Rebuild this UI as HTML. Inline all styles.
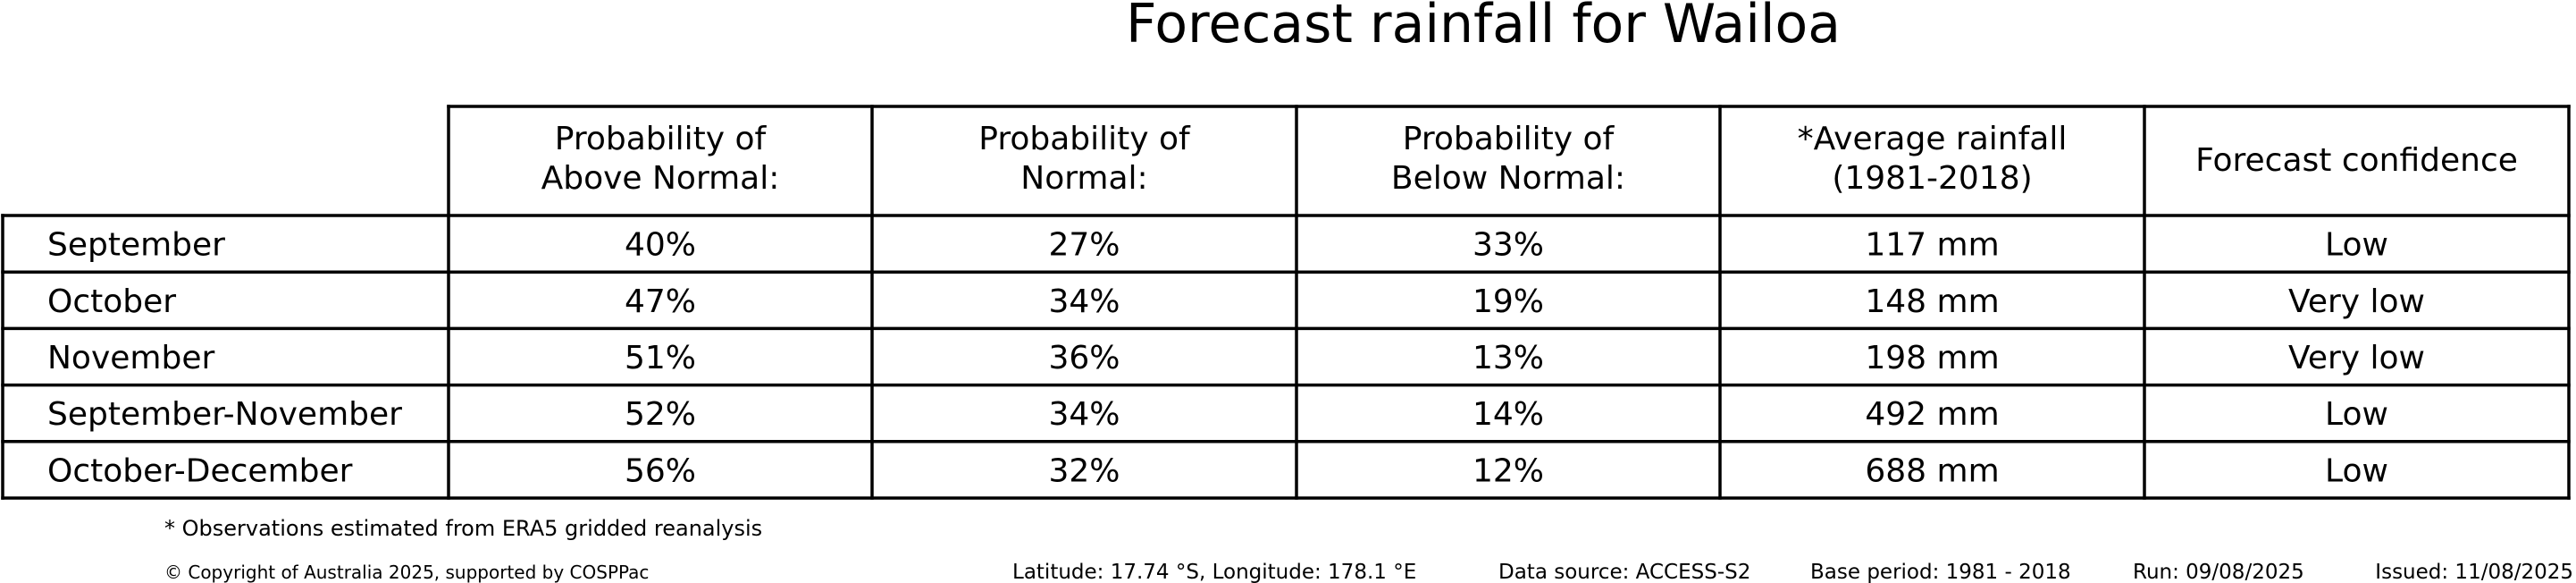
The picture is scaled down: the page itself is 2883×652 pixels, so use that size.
<!DOCTYPE html>
<html><head><meta charset="utf-8"><style>
html,body{margin:0;padding:0;background:#fff;}
svg{display:block;font-family:"DejaVu Sans","Liberation Sans",sans-serif;}
</style></head><body>
<svg id="chart" width="2883" height="652" viewBox="0 0 2883 652" xmlns="http://www.w3.org/2000/svg">
<text x="1660" y="47" font-size="60" text-anchor="middle">Forecast rainfall for Wailoa</text>
<g id="tbl"></g>
<text x="184" y="599" font-size="24">* Observations estimated from ERA5 gridded reanalysis</text>
<text x="184" y="647" font-size="20">© Copyright of Australia 2025, supported by COSPPac</text>
<text x="1133" y="647" font-size="23">Latitude: 17.74 °S, Longitude: 178.1 °E</text>
<text x="1677" y="647" font-size="23">Data source: ACCESS-S2</text>
<text x="2026" y="647" font-size="23">Base period: 1981 - 2018</text>
<text x="2387" y="647" font-size="23">Run: 09/08/2025</text>
<text x="2880" y="647" font-size="23" text-anchor="end">Issued: 11/08/2025</text>
</svg>
<script>
const headers = [["Probability of","Above Normal:"],["Probability of","Normal:"],["Probability of","Below Normal:"],["*Average rainfall","(1981-2018)"],["Forecast confidence"]];
const periods = ["September","October","November","September-November","October-December"];
const aboveNormal = [40,47,51,52,56];
const normal = [27,34,36,34,32];
const belowNormal = [33,19,13,14,12];
const avgRainfall = [117,148,198,492,688];
const confidence = ["Low","Very low","Very low","Low","Low"];

const NS="http://www.w3.org/2000/svg";
const g=document.getElementById('tbl');
const colX=[3,502,976,1451,1925,2400,2875];
const headTop=119, headBot=241, rowH=63.2;
const lw=3.5;
function line(x1,y1,x2,y2,name){
  const l=document.createElementNS(NS,'line');
  l.setAttribute('x1',x1);l.setAttribute('y1',y1);l.setAttribute('x2',x2);l.setAttribute('y2',y2);
  l.setAttribute('stroke','#000');l.setAttribute('stroke-width',lw);l.setAttribute('stroke-linecap','square');
  
  
  g.appendChild(l);
}
function txt(x,y,s,anchor,name){
  const t=document.createElementNS(NS,'text');
  t.setAttribute('x',x);t.setAttribute('y',y);t.setAttribute('font-size','36');
  t.setAttribute('text-anchor',anchor);t.textContent=s;
  
  
  g.appendChild(t);
}
const n=periods.length;
const bottom=headBot+n*rowH;
// header lines
line(colX[1],headTop,colX[6],headTop,'header-top-border');
for(let i=1;i<colX.length;i++) line(colX[i],headTop,colX[i],bottom,'column-border');
line(colX[0],headBot,colX[0],bottom,'table-left-border');
for(let r=0;r<=n;r++) line(colX[0],headBot+r*rowH,colX[6],headBot+r*rowH,'row-border');
// headers
headers.forEach((h,i)=>{
  const cx=(colX[i+1]+colX[i+2])/2;
  if(h.length===2){txt(cx,167,h[0],'middle','header-label');txt(cx,211,h[1],'middle','header-label');}
  else txt(cx,191,h[0],'middle','header-label');
});
// rows
for(let r=0;r<n;r++){
  const y=headBot+r*rowH+rowH/2+13;
  const vals=[aboveNormal[r]+'%',normal[r]+'%',belowNormal[r]+'%',avgRainfall[r]+' mm',confidence[r]];
  txt(53,y,periods[r],'start','period-label');
  vals.forEach((v,i)=>txt((colX[i+1]+colX[i+2])/2,y,v,'middle','cell-value'));
}
</script>
</body></html>
